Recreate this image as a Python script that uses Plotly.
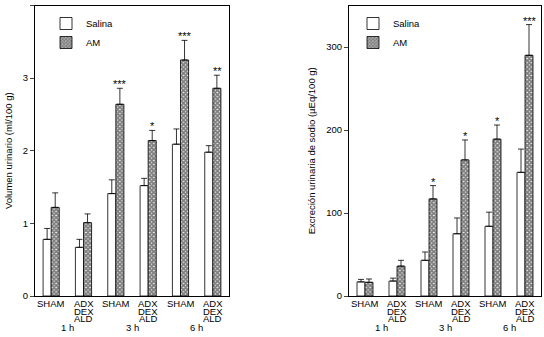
import plotly.graph_objects as go

groups = ["SHAM", "ADX<br>DEX<br>ALD"]
times = ["1 h", "3 h", "6 h"]
categories = [f"{t}|{g}" for t in times for g in groups]
cat_labels = [g for t in times for g in groups]

vol_salina = [0.78, 0.67, 1.41, 1.52, 2.09, 1.98]
vol_salina_err = [0.15, 0.11, 0.19, 0.10, 0.21, 0.09]
vol_am = [1.22, 1.01, 2.64, 2.14, 3.25, 2.86]
vol_am_err = [0.20, 0.12, 0.22, 0.14, 0.27, 0.18]
vol_sig = ["", "", "***", "*", "***", "**"]

na_salina = [17, 18, 43, 75, 84, 149]
na_salina_err = [3, 3.5, 10, 19, 17, 28]
na_am = [16.5, 36, 117, 164, 189, 290]
na_am_err = [4, 7, 16, 24, 17, 37]
na_sig = ["", "", "*", "*", "*", "***"]

FONT = "Liberation Sans, Arial, sans-serif"
W, H = 544, 337

fig = go.Figure()


def add_panel(xa, ya, legend, sal, sal_e, am, am_e):
    fig.add_trace(go.Bar(
        x=categories, y=sal, name="Salina", xaxis=xa, yaxis=ya, legend=legend,
        marker=dict(color="white", line=dict(color="black", width=0.8)),
        error_y=dict(type="data", array=sal_e, arrayminus=[0] * len(sal_e),
                     color="black", thickness=0.8, width=3),
    ))
    fig.add_trace(go.Bar(
        x=categories, y=am, name="AM", xaxis=xa, yaxis=ya, legend=legend,
        marker=dict(color="white", line=dict(color="black", width=0.8),
                    pattern=dict(shape="x", size=3, solidity=0.85,
                                 fgcolor="black", bgcolor="white")),
        error_y=dict(type="data", array=am_e, arrayminus=[0] * len(am_e),
                     color="black", thickness=0.8, width=3),
    ))


add_panel("x", "y", "legend", vol_salina, vol_salina_err, vol_am, vol_am_err)
add_panel("x2", "y2", "legend2", na_salina, na_salina_err, na_am, na_am_err)

bottom_frac = 1 - 296 / H
annotations = []
for xr, yr, am, am_e, sig in [("x", "y", vol_am, vol_am_err, vol_sig),
                              ("x2", "y2", na_am, na_am_err, na_sig)]:
    for i in range(len(categories)):
        if sig[i]:
            annotations.append(dict(
                x=i, xshift=4.5, y=am[i] + am_e[i], xref=xr, yref=yr,
                text=sig[i], showarrow=False, yanchor="bottom", yshift=-4,
                font=dict(size=11, family=FONT, color="black")))
        for k, ln in enumerate(cat_labels[i].split("<br>")):
            annotations.append(dict(
                x=i, y=bottom_frac, xref=xr, yref="paper", text=ln, showarrow=False,
                yanchor="top", yshift=0 - k * 7.5,
                font=dict(size=9.5, family=FONT, color="black")))
    for j, t in enumerate(times):
        annotations.append(dict(
            x=2 * j + 0.5, y=0, xref=xr, yref="paper", text=t, showarrow=False,
            yanchor="bottom", yshift=2,
            font=dict(size=9.5, family=FONT, color="black")))

axis_common = dict(showline=True, linecolor="black", linewidth=1, mirror=True,
                   showgrid=False, zeroline=False, automargin=False)

fig.update_layout(
    width=W, height=H,
    margin=dict(l=0, r=0, t=0, b=0, autoexpand=False),
    paper_bgcolor="white", plot_bgcolor="white",
    barmode="group", bargap=0.5, bargroupgap=0,
    font=dict(family=FONT, size=9, color="black"),
    showlegend=True,
    xaxis=dict(domain=[35 / W, 229 / W], anchor="y", showticklabels=False,
               ticks="", **axis_common),
    yaxis=dict(domain=[bottom_frac, 1 - 5.5 / H], anchor="x", range=[0, 4],
               tickvals=[0, 1, 2, 3, 4], ticks="outside", ticklen=4,
               tickfont=dict(size=9.5),
               title=dict(text="Volumen urinario (ml/100 g)", standoff=8,
                          font=dict(size=9.5)), **axis_common),
    xaxis2=dict(domain=[349 / W, 541 / W], anchor="y2", showticklabels=False,
                ticks="", **axis_common),
    yaxis2=dict(domain=[bottom_frac, 1 - 5.5 / H], anchor="x2", range=[0, 350],
                tickvals=[0, 100, 200, 300], ticks="outside", ticklen=4,
                tickfont=dict(size=9.5),
                title=dict(text="Excreción urinaria de sodio (µEq/100 g)",
                           standoff=8, font=dict(size=9.5)), **axis_common),
    legend=dict(x=46 / W, y=1 - 9 / H, xanchor="left", yanchor="top",
                bgcolor="rgba(0,0,0,0)", font=dict(size=9.5),
                tracegroupgap=0, itemwidth=30),
    legend2=dict(x=353 / W, y=1 - 9 / H, xanchor="left", yanchor="top",
                 bgcolor="rgba(0,0,0,0)", font=dict(size=9.5),
                 tracegroupgap=0, itemwidth=30),
    annotations=annotations,
)

fig.write_html("out.html", config={"displayModeBar": False},
               post_script="document.body.style.margin='0';document.body.style.overflow='hidden';")
